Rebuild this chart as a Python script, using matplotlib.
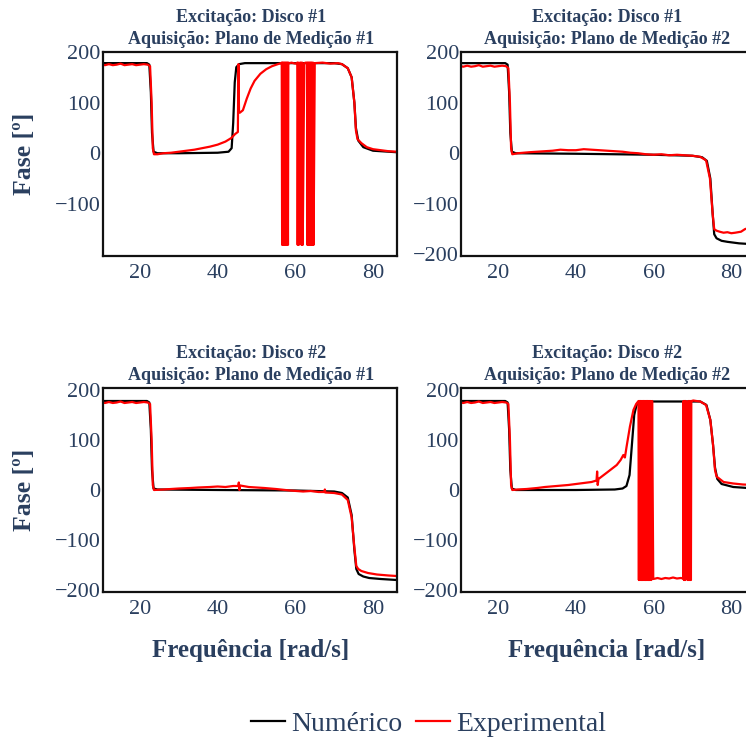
import matplotlib
matplotlib.use("Agg")
import matplotlib.pyplot as plt
from matplotlib.lines import Line2D

plt.rcParams['font.family'] = ['Liberation Serif', 'DejaVu Serif']
plt.rcParams['axes.unicode_minus'] = True

TXT = '#2a3f5f'

titles = [
    ("Excitação: Disco #1", "Aquisição: Plano de Medição #1"),
    ("Excitação: Disco #1", "Aquisição: Plano de Medição #2"),
    ("Excitação: Disco #2", "Aquisição: Plano de Medição #1"),
    ("Excitação: Disco #2", "Aquisição: Plano de Medição #2"),
]
xlabel = "Frequência [rad/s]"
ylabel = "Fase [º]"
legend_labels = ["Numérico", "Experimental"]
xticks = [20, 40, 60, 80]
yticks_full = [-200, -100, 0, 100, 200]
yticks_p1 = [-100, 0, 100, 200]

# ---------------- Panel 1: Disco #1 / Plano #1 ----------------
num1_f = [10.3, 21.8, 22.4, 22.8, 23.1, 23.5, 24.5, 30, 40, 42.8, 43.6, 44.0, 44.4, 44.8, 45.5, 47,
          55, 70, 72, 73.5, 74.5, 75.2, 75.6, 76.2, 77.5, 80, 86.1]
num1_p = [178, 178, 175, 120, 40, 3, 0, 0, 1, 3, 10, 60, 140, 170, 176, 178,
          178, 178, 176, 168, 150, 100, 50, 25, 12, 5, 2]

exp1_f = [10.3, 11, 12, 13, 14, 15, 16, 17, 18, 19, 20, 21, 22, 22.6, 23.0, 23.3, 23.6, 24.5, 26, 28,
          30, 32, 34, 36, 38, 40, 42, 43.5, 44.5, 45.2, 45.35, 45.5, 45.7, 46.5, 47.5, 48.5, 49.5, 51,
          52.5, 54, 55.5, 56.3,
          56.5, 56.6, 56.7, 56.85, 56.95, 57.1, 57.2, 57.35, 57.45, 57.6, 57.7, 57.85, 57.95, 58.1, 58.2,
          58.5, 59, 60, 60.3,
          60.5, 60.6, 60.75, 60.9, 61.2, 61.45, 61.6, 61.75, 61.9,
          62.3, 62.7,
          63.0, 63.1, 63.25, 63.35, 63.5, 63.6, 63.75, 63.85, 64.0, 64.1, 64.25, 64.4, 64.55, 64.7,
          65, 67, 69, 71, 72, 73.5, 74.5, 75.2, 75.6, 76.0, 77, 78.4, 80, 82, 84, 86.1]
exp1_p = [175, 174, 176, 174, 175, 177, 174, 175, 176, 174, 175, 176, 175, 172, 100, 10, -2, -2, 0, 1,
          3, 5, 7, 10, 13, 17, 23, 30, 38, 42, 176, 82, 80, 85, 108, 128, 143, 157,
          166, 172, 176, 178,
          179, -181, 179, -181, 179, -181, 179, -181, 179, -181, 179, -181, 179, -181, 179,
          178, 179, 177, 178,
          179, -181, 179, -181, 179, 179, -181, 179, -181,
          178, 179,
          179, -181, 179, -181, 179, -181, 179, -181, 179, -181, 179, -181, 179, -181,
          178, 179, 177, 178, 176, 168, 150, 100, 45, 28, 20, 12, 8, 6, 4, 3]

# ---------------- Panel 2: Disco #1 / Plano #2 ----------------
num2_f = [10.3, 21.8, 22.4, 22.8, 23.1, 23.5, 24.5, 40, 60, 70, 72.5, 73.7, 74.6, 75.2, 75.6, 76.2,
          77.5, 79, 82, 86.1]
num2_p = [178, 178, 175, 120, 40, 3, 0, -1, -3, -5, -8, -15, -50, -120, -160, -168,
          -173, -175, -178, -180]

exp2_f = [10.3, 11, 12, 13, 14, 15, 16, 17, 18, 19, 20, 21, 22, 22.6, 23.0, 23.3, 23.6, 25, 28, 30,
          32, 34, 36, 38, 40, 42, 44, 46, 48, 50, 52, 54, 56, 58, 60, 62, 64, 66, 68, 70, 72, 73.5,
          74.5, 75.2, 75.6, 76.2, 77, 78, 79, 80, 81, 82.5, 83.5, 85, 86.1]
exp2_p = [172, 171, 173, 171, 172, 174, 171, 172, 173, 171, 172, 173, 172, 168, 100, 10, -2, 0, 2, 3,
          4, 5, 7, 6, 6, 8, 7, 6, 5, 4, 3, 1, 0, -2, -3, -2, -4, -3, -4, -5, -7, -14,
          -50, -120, -150, -153, -155, -157, -156, -158, -157, -155, -150, -146, -143]

# ---------------- Panel 3: Disco #2 / Plano #1 ----------------
num3_f = [10.3, 21.8, 22.4, 22.8, 23.1, 23.5, 24.5, 40, 60, 70, 72, 73.5, 74.5, 75.2, 75.7, 76.3,
          77.5, 79, 82, 86.1]
num3_p = [178, 178, 175, 120, 40, 3, 1, 0, -1, -3, -6, -15, -50, -120, -158, -168,
          -173, -176, -178, -180]

exp3_f = [10.3, 11, 12, 13, 14, 15, 16, 17, 18, 19, 20, 21, 22, 22.6, 23.0, 23.3, 23.6, 26, 28, 30,
          33, 35, 38, 40, 42, 44, 45.3, 45.45, 45.6, 45.8, 48, 50, 52, 55, 58.6, 62, 64, 66, 67.5,
          67.6, 67.7, 70, 72, 73.5, 74.5, 75.2, 75.7, 76.2, 77, 78.7, 81, 84, 86.1]
exp3_p = [175, 174, 176, 174, 175, 177, 174, 175, 176, 174, 175, 176, 175, 172, 100, 10, 0, 1, 2, 3,
          4, 5, 6, 7, 6, 8, 8, 15, 0, 9, 6, 5, 4, 2, -1, -3, -2, -4, -4,
          1, -5, -6, -9, -20, -55, -115, -152, -158, -162, -166, -169, -171, -172]

# ---------------- Panel 4: Disco #2 / Plano #2 ----------------
num4_f = [10.3, 21.8, 22.4, 22.8, 23.1, 23.5, 24.5, 40, 50, 52, 53, 53.8, 54.5, 55.0, 55.6, 56.5,
          58, 65, 72, 73.6, 74.6, 75.3, 75.8, 76.4, 77.5, 80.5, 86.1]
num4_p = [178, 178, 175, 120, 40, 3, 0, 0, 1, 3, 8, 30, 100, 150, 170, 176,
          177, 177, 177, 170, 140, 90, 45, 22, 12, 6, 3]

exp4_f = [10.3, 11, 12, 13, 14, 15, 16, 17, 18, 19, 20, 21, 22, 22.6, 23.0, 23.3, 23.6, 25, 27.3, 30,
          32, 35, 38, 40, 42, 44, 45.3, 45.45, 45.6, 45.8, 48, 50.5, 51.5, 52.2, 52.6, 53, 53.9, 54.8,
          55.5, 56.0,
          56.1, 56.2, 56.3, 56.4, 56.5, 56.6, 56.7, 56.8, 56.9, 57.0, 57.1, 57.2, 57.3, 57.4, 57.5,
          57.6, 57.7, 57.8, 57.9, 58.0, 58.1, 58.2, 58.3, 58.4, 58.5, 58.6, 58.7, 58.8, 58.9, 59.0,
          59.2, 59.4, 59.6, 59.9,
          60.5, 61, 62, 63, 64, 65, 66, 67, 67.6,
          67.7, 67.8, 67.9, 68.0, 68.1, 68.2, 68.3, 68.8, 68.9, 69.0, 69.1, 69.2, 69.3, 69.4, 69.5,
          69.6, 69.7, 69.8,
          70.2, 71, 72, 73.5, 74.6, 75.3, 75.8, 76.2, 78, 80.5, 83, 86.1]
exp4_p = [175, 174, 176, 174, 175, 177, 174, 175, 176, 174, 175, 176, 175, 172, 100, 10, 0, 1, 2, 4,
          6, 8, 10, 12, 14, 16, 19, 37, 10, 22, 35, 50, 60, 70, 65, 85, 127, 160,
          172, 177,
          178, -180, 178, -180, 178, -180, 178, -180, 178, -180, 178, -180, 178, -180, 178,
          -180, 178, -180, 178, -180, 178, -180, 178, -180, 178, -180, 178, -180, 178, -180,
          178, -180, 178, -178,
          -177, -176, -178, -176, -177, -175, -177, -176, -177,
          178, -180, 178, -180, 178, -180, 178, -180, 178, -180, 178, -180, 178, -180, 178,
          -180, 178, 178,
          179, 178, 177, 170, 140, 90, 40, 27, 16, 13, 11, 10]

panels = [
    (num1_f, num1_p, exp1_f, exp1_p),
    (num2_f, num2_p, exp2_f, exp2_p),
    (num3_f, num3_p, exp3_f, exp3_p),
    (num4_f, num4_p, exp4_f, exp4_p),
]

W, H = 746, 742
fig = plt.figure(figsize=(W / 100, H / 100), dpi=100)

def pos(l, r, t, b):
    return [l / W, 1 - b / H, (r - l) / W, (b - t) / H]

boxes = [
    (102.7, 396.7, 52, 256),
    (461, 755, 52, 256),
    (102.7, 396.7, 388, 592),
    (461, 755, 388, 592),
]

for i, ((l, r, t, b), (nf, npv, ef, epv), (t1, t2)) in enumerate(zip(boxes, panels, titles)):
    ax = fig.add_axes(pos(l, r, t, b))
    ax.plot(nf, npv, color='black', lw=1.6, solid_joinstyle='round')
    ax.plot(ef, epv, color='#ff0000', lw=1.6, solid_joinstyle='round')
    ax.set_xlim(10.4, 86.1)
    if i < 2:
        ax.set_ylim(-203, 200)
    else:
        ax.set_ylim(-204, 204)
    ax.set_xticks(xticks)
    ax.set_yticks(yticks_p1 if i == 0 else yticks_full)
    ax.tick_params(length=0, labelsize=16, labelcolor=TXT)
    ax.tick_params(axis='x', pad=6)
    ax.tick_params(axis='y', pad=1.5)
    for s in ax.spines.values():
        s.set_linewidth(1.6)
        s.set_color('#111111')
    cx = 607 if i in (1, 3) else 251
    fig.text(cx / W, 1 - (t - 35) / H, t1, ha='center', va='center', fontsize=13,
             fontweight='bold', color=TXT)
    fig.text(cx / W, 1 - (t - 12) / H, t2, ha='center', va='center', fontsize=13,
             fontweight='bold', color=TXT)
    if i in (0, 2):
        fig.text(24 / W, 1 - ((t + b) / 2) / H, ylabel, rotation=90, ha='center', va='center',
                 fontsize=18.5, fontweight='bold', color=TXT)
    if i in (2, 3):
        fig.text(cx / W, 1 - 650 / H, xlabel, ha='center', va='center',
                 fontsize=18, fontweight='bold', color=TXT)

handles = [Line2D([], [], color='black', lw=1.6), Line2D([], [], color='#ff0000', lw=1.6)]
leg = fig.legend(handles, legend_labels, loc='center', bbox_to_anchor=(428.5 / W, 1 - 724 / H),
                 ncol=2, frameon=False, fontsize=20, handlelength=1.24, handletextpad=0.2,
                 columnspacing=0.5, borderaxespad=0)
for txt in leg.get_texts():
    txt.set_color(TXT)

fig.savefig('out.png', dpi=100)
